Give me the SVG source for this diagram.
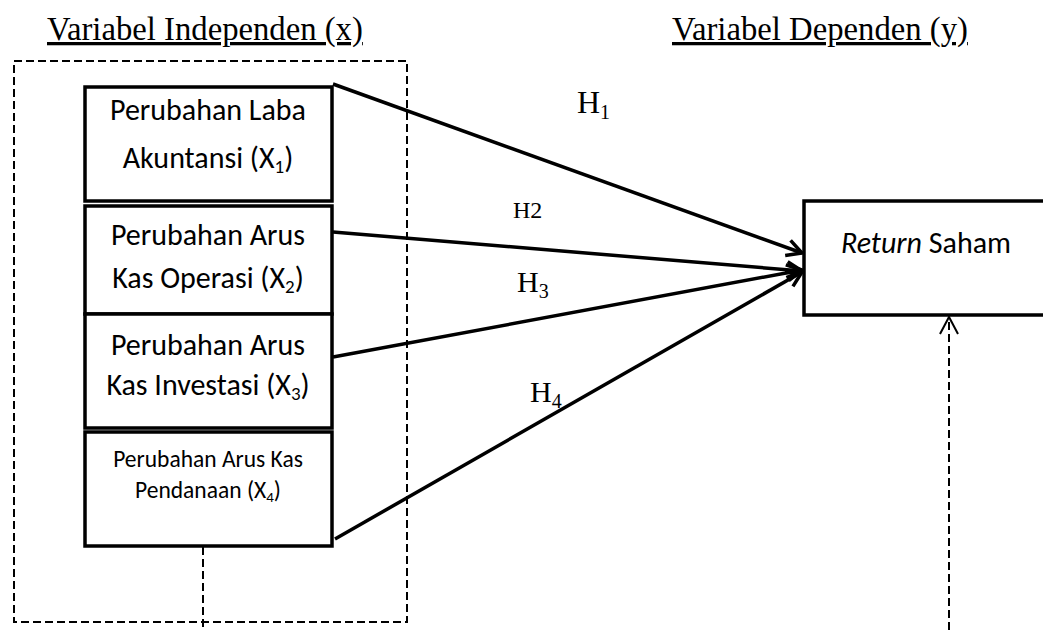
<svg xmlns="http://www.w3.org/2000/svg" width="1043" height="630" viewBox="0 0 1043 630">
<style>
.box{fill:#fff;stroke:#000;stroke-width:3.5}
.dash{fill:none;stroke:#000;stroke-width:2;stroke-dasharray:8 4}
.arr{fill:none;stroke:#000;stroke-width:3.5}
.t{font-family:Carlito,Lato,sans-serif;font-size:30px;fill:#000;text-anchor:middle}
.ts{font-family:Carlito,Lato,sans-serif;font-size:23.5px;fill:#000;text-anchor:middle}
.title{font-family:"Liberation Serif",serif;font-size:32.7px;fill:#000;text-decoration:underline}
.h{font-family:"Liberation Serif",serif;fill:#000}
</style>
<defs>
<marker id="ah" markerUnits="userSpaceOnUse" markerWidth="30" markerHeight="30" refX="0" refY="0" viewBox="-20 -15 30 30" orient="auto">
<path d="M-15,-8 L0,0 L-15,8" fill="none" stroke="#000" stroke-width="3.5"/>
</marker>
</defs>
<rect width="1043" height="630" fill="#fff"/>
<text class="title" x="47" y="40">Variabel Independen (x)</text>
<text class="title" x="672" y="40">Variabel Dependen (y)</text>
<rect class="dash" x="14" y="61" width="393" height="561"/>
<g id="connectors">
<line class="arr" x1="333" y1="84" x2="802" y2="253" marker-end="url(#ah)"/>
<line class="arr" x1="333" y1="232" x2="802" y2="271" marker-end="url(#ah)"/>
<line class="arr" x1="333" y1="357" x2="802" y2="270" marker-end="url(#ah)"/>
<line class="arr" x1="335" y1="539" x2="802" y2="272" marker-end="url(#ah)"/>
<line class="dash" x1="203" y1="547" x2="203" y2="630"/>
<line class="dash" x1="949" y1="630" x2="949" y2="318"/>
<path d="M940,334 L949,317 L958,334" fill="none" stroke="#000" stroke-width="2"/>
</g>
<g id="labels">
<text class="h" x="577" y="113" font-size="32">H<tspan font-size="20" dy="6">1</tspan></text>
<text class="h" x="513" y="218" font-size="24">H2</text>
<text class="h" x="517" y="292" font-size="30">H<tspan font-size="20" dy="6">3</tspan></text>
<text class="h" x="530" y="402" font-size="30">H<tspan font-size="20" dy="6">4</tspan></text>
</g>
<g id="n1">
<rect class="box" x="85" y="87" width="247" height="114"/>
<text class="t" x="208" y="120">Perubahan Laba</text>
<text class="t" x="208" y="168">Akuntansi (X<tspan font-size="19" dy="5">1</tspan><tspan dy="-5">)</tspan></text>
</g>
<g id="n2">
<rect class="box" x="85" y="206" width="247" height="108"/>
<text class="t" x="208" y="245">Perubahan Arus</text>
<text class="t" x="208" y="288">Kas Operasi (X<tspan font-size="19" dy="5">2</tspan><tspan dy="-5">)</tspan></text>
</g>
<g id="n3">
<rect class="box" x="85" y="314" width="247" height="114"/>
<text class="t" x="208" y="355">Perubahan Arus</text>
<text class="t" x="208" y="395">Kas Investasi (X<tspan font-size="19" dy="5">3</tspan><tspan dy="-5">)</tspan></text>
</g>
<g id="n4">
<rect class="box" x="85" y="432" width="247" height="114"/>
<text class="ts" x="208" y="467">Perubahan Arus Kas</text>
<text class="ts" x="208" y="498">Pendanaan (X<tspan font-size="15" dy="4">4</tspan><tspan dy="-4">)</tspan></text>
</g>
<g id="n5">
<rect class="box" x="804" y="201" width="260" height="114"/>
<text class="t" x="926" y="253"><tspan font-style="italic">Return</tspan> Saham</text>
</g>
</svg>
